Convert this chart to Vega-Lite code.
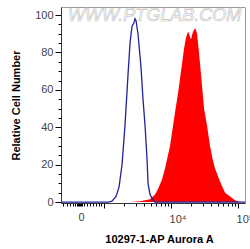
{
  "$schema": "https://vega.github.io/schema/vega-lite/v6.json",
  "width": 184,
  "height": 196,
  "autosize": {"type": "none"},
  "padding": {"left": 61, "top": 7, "right": 5, "bottom": 46},
  "background": "white",
  "config": {
    "view": {"stroke": "#999999", "strokeWidth": 1},
    "font": "Liberation Sans",
    "axis": {
      "labelFont": "Liberation Sans",
      "titleFont": "Liberation Sans",
      "labelFontSize": 11,
      "titleFontSize": 11,
      "titleFontWeight": "bold",
      "titleColor": "#000000",
      "labelColor": "#444444",
      "domainColor": "#333333",
      "tickColor": "#000000",
      "grid": false
    }
  },
  "datasets": {
    "control": [
      {"x": 2.358, "y": 0},
      {"x": 3.060, "y": 0},
      {"x": 3.119, "y": 0.5},
      {"x": 3.179, "y": 3},
      {"x": 3.224, "y": 8},
      {"x": 3.269, "y": 20},
      {"x": 3.313, "y": 41},
      {"x": 3.358, "y": 68},
      {"x": 3.388, "y": 85},
      {"x": 3.418, "y": 94},
      {"x": 3.448, "y": 96},
      {"x": 3.463, "y": 98},
      {"x": 3.478, "y": 97},
      {"x": 3.507, "y": 90},
      {"x": 3.552, "y": 72},
      {"x": 3.582, "y": 55},
      {"x": 3.612, "y": 41},
      {"x": 3.642, "y": 23},
      {"x": 3.657, "y": 10},
      {"x": 3.687, "y": 4},
      {"x": 3.716, "y": 2},
      {"x": 3.761, "y": 0},
      {"x": 5.104, "y": 0}
    ],
    "sample": [
      {"x": 2.358, "y": 0},
      {"x": 3.388, "y": 0},
      {"x": 3.537, "y": 0.5},
      {"x": 3.687, "y": 1.5},
      {"x": 3.761, "y": 4},
      {"x": 3.806, "y": 7},
      {"x": 3.866, "y": 12},
      {"x": 3.910, "y": 18},
      {"x": 3.985, "y": 30},
      {"x": 4.030, "y": 41},
      {"x": 4.060, "y": 48},
      {"x": 4.104, "y": 58},
      {"x": 4.134, "y": 66},
      {"x": 4.164, "y": 74},
      {"x": 4.194, "y": 82},
      {"x": 4.224, "y": 88},
      {"x": 4.254, "y": 91},
      {"x": 4.269, "y": 90},
      {"x": 4.284, "y": 88},
      {"x": 4.299, "y": 87},
      {"x": 4.313, "y": 89},
      {"x": 4.328, "y": 91},
      {"x": 4.343, "y": 92},
      {"x": 4.358, "y": 93},
      {"x": 4.373, "y": 92},
      {"x": 4.388, "y": 90},
      {"x": 4.403, "y": 85},
      {"x": 4.433, "y": 74},
      {"x": 4.463, "y": 62},
      {"x": 4.493, "y": 50},
      {"x": 4.537, "y": 41},
      {"x": 4.582, "y": 30},
      {"x": 4.627, "y": 22},
      {"x": 4.657, "y": 18},
      {"x": 4.731, "y": 11},
      {"x": 4.806, "y": 5},
      {"x": 4.881, "y": 3},
      {"x": 4.955, "y": 1},
      {"x": 5.030, "y": 0},
      {"x": 5.104, "y": 0}
    ],
    "watermark": [{"text": "WWW.PTGLAB.COM", "x": 2.463, "y": 99.5}]
  },
  "encoding": {
    "x": {
      "field": "x",
      "type": "quantitative",
      "scale": {"domain": [2.358, 5.104], "nice": false, "zero": false},
      "axis": {
        "title": "10297-1-AP Aurora A",
        "titlePadding": 9,
        "titleX": 98,
        "values": [2.388, 2.448, 2.493, 2.537, 2.567, 2.597, 2.612, 2.627, 2.642, 2.657, 2.672, 2.701, 2.746, 2.791, 2.836, 2.881, 2.925, 2.955, 3, 3.301, 3.477, 3.602, 3.699, 3.778, 3.845, 3.903, 3.954, 4, 4.301, 4.477, 4.602, 4.699, 4.778, 4.845, 4.903, 4.954, 5],
        "labelExpr": "datum.value == 4 ? '10⁴' : (datum.value == 5 ? '10⁵' : (datum.value == 2.642 ? '0' : ''))",
        "labelAlign": "left",
        "labelOffset": -2,
        "labelBound": false,
        "labelFlush": false,
        "labelOverlap": false,
        "labelPadding": 5,
        "tickSize": {"condition": {"test": "datum.value == 3 || datum.value == 4 || datum.value == 5", "value": 5}, "value": 3}
      }
    },
    "y": {
      "field": "y",
      "type": "quantitative",
      "scale": {"domain": [-0.5, 104.3], "nice": false, "zero": false},
      "axis": {
        "title": "Relative Cell Number",
        "titlePadding": 13,
        "values": [0, 5, 10, 15, 20, 25, 30, 35, 40, 45, 50, 55, 60, 65, 70, 75, 80, 85, 90, 95, 100],
        "labelExpr": "datum.value % 20 === 0 ? datum.label : ''",
        "labelPadding": 2,
        "labelOverlap": false,
        "tickSize": {"condition": {"test": "datum.value % 20 === 0", "value": 6}, "value": 3}
      }
    }
  },
  "layer": [
    {
      "data": {"name": "watermark"},
      "mark": {"type": "text", "align": "left", "baseline": "middle", "fontSize": 18, "fontStyle": "italic", "fill": "#ffffff", "stroke": "#bdbdbd", "strokeWidth": 0.6},
      "encoding": {"text": {"field": "text"}}
    },
    {
      "data": {"name": "sample"},
      "mark": {"type": "area", "color": "#ff0000", "interpolate": "linear"}
    },
    {
      "data": {"name": "control"},
      "mark": {"type": "line", "color": "#22229a", "strokeWidth": 1.3, "interpolate": "linear"}
    }
  ]
}
